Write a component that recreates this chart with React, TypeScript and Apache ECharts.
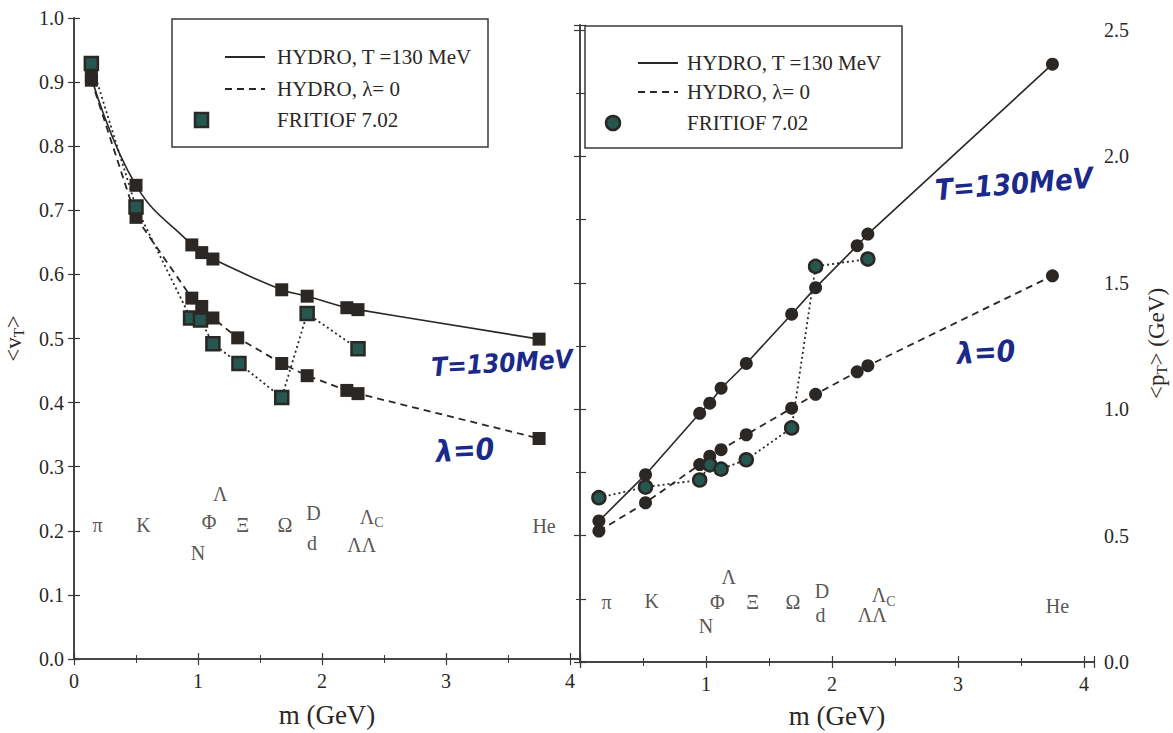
import React, { useEffect, useRef } from "react";
import * as echarts from "echarts";

// ---------- data (left panel: <v_T>) ----------
const vtHydroM = [0.14, 0.5, 0.95, 1.03, 1.12, 1.675, 1.88, 2.2, 2.29, 3.75];
const vtHydroT130 = [0.908, 0.739, 0.646, 0.634, 0.624, 0.576, 0.566, 0.548, 0.545, 0.499];
const vtLambda0M = [0.14, 0.5, 0.95, 1.03, 1.12, 1.32, 1.675, 1.88, 2.2, 2.29, 3.75];
const vtLambda0 = [0.903, 0.689, 0.563, 0.55, 0.532, 0.501, 0.461, 0.442, 0.419, 0.414, 0.344];
const vtFritiofM = [0.14, 0.5, 0.94, 1.02, 1.12, 1.33, 1.675, 1.88, 2.29];
const vtFritiof = [0.929, 0.705, 0.532, 0.529, 0.492, 0.461, 0.408, 0.539, 0.484];

// ---------- data (right panel: <p_T>) ----------
const ptM = [0.15, 0.52, 0.95, 1.03, 1.12, 1.32, 1.68, 1.87, 2.2, 2.285, 3.75];
const ptHydroT130 = [0.558, 0.741, 0.984, 1.024, 1.083, 1.181, 1.376, 1.481, 1.647, 1.693, 2.365];
const ptLambda0 = [0.518, 0.63, 0.781, 0.814, 0.84, 0.899, 1.004, 1.059, 1.148, 1.172, 1.528];
const ptFritiofM = [0.15, 0.52, 0.95, 1.03, 1.12, 1.32, 1.68, 1.87, 2.285];
const ptFritiof = [0.65, 0.692, 0.72, 0.78, 0.763, 0.8, 0.926, 1.565, 1.594];

// ---------- particle labels ----------
const particleNames = ["π", "K", "N", "Φ", "Λ", "Ξ", "Ω", "D", "d", "Λc", "ΛΛ", "He"];
const vtLabelM = [0.19, 0.56, 1.0, 1.09, 1.18, 1.36, 1.7, 1.93, 1.92, 2.4, 2.32, 3.79];
const vtLabelY = [0.209, 0.209, 0.165, 0.213, 0.257, 0.209, 0.209, 0.228, 0.181, 0.222, 0.178, 0.207];
const ptLabelM = [0.21, 0.57, 1.0, 1.09, 1.18, 1.37, 1.69, 1.92, 1.91, 2.41, 2.32, 3.79];
const ptLabelY = [0.236, 0.24, 0.144, 0.236, 0.335, 0.236, 0.236, 0.282, 0.184, 0.265, 0.184, 0.223];

const leftXTicks = [0, 1, 2, 3, 4];
const rightXTicks = [1, 2, 3, 4];
const legendTexts = ["HYDRO, T =130 MeV", "HYDRO, λ= 0", "FRITIOF 7.02"];

const SERIF = "Liberation Serif";
const INK = "#2b2724";
const TEAL = "#25574f";
const HAND = "#1b2a8a";

const pairs = (xs: number[], ys: number[]) => xs.map((x, i) => [x, ys[i]]);

function App() {
  const ref = useRef<HTMLDivElement>(null);
  useEffect(() => {
    if (!ref.current) return;
    const chart = echarts.init(ref.current, undefined, { renderer: "svg" });

    const axisLine = { show: true, lineStyle: { color: "#3a3a3a", width: 1.5 } };
    const tick = { show: true, inside: true, length: 6, lineStyle: { color: "#3a3a3a", width: 1.2 } };
    const minor = { show: true, splitNumber: 2, length: 4, lineStyle: { color: "#3a3a3a", width: 1 } };
    const xFmt = (ticks: number[]) => (v: number) =>
      ticks.includes(Math.round(v * 1000) / 1000) ? String(v) : "";

    const xAxisBase = (gridIndex: number, position: string, ticks: number[] | null) => ({
      type: "value",
      gridIndex,
      position,
      min: 0,
      max: 4.08,
      interval: 1,
      axisLine,
      axisTick: tick,
      minorTick: minor,
      splitLine: { show: false },
      axisLabel: ticks
        ? { show: true, formatter: xFmt(ticks), fontFamily: SERIF, fontSize: 20, color: INK, margin: 12 }
        : { show: false },
      name: ticks ? "m (GeV)" : "",
      nameLocation: "middle",
      nameGap: 42,
      nameTextStyle: { fontFamily: SERIF, fontSize: 27, color: INK },
    });

    const labelSeries = (xi: number, yi: number, ms: number[], ys: number[]) => ({
      type: "scatter",
      xAxisIndex: xi,
      yAxisIndex: yi,
      silent: true,
      symbolSize: 1,
      itemStyle: { color: "rgba(0,0,0,0)" },
      z: 1,
      data: ms.map((m, i) => ({ name: particleNames[i], value: [m, ys[i]] })),
      label: {
        show: true,
        position: "inside",
        fontFamily: SERIF,
        fontSize: 20,
        color: INK,
        formatter: (p: any) => (p.name === "Λc" ? "Λ{sub|C}" : p.name),
        rich: { sub: { fontFamily: SERIF, fontSize: 14, color: INK, padding: [12, 0, 0, 0] } },
      },
    });

    const lineSeries = (
      xi: number,
      yi: number,
      name: string,
      data: number[][],
      type: any,
      symbol: string,
      fill: string,
      smooth: number | boolean
    ) => ({
      type: "line",
      name,
      xAxisIndex: xi,
      yAxisIndex: yi,
      data,
      smooth,
      symbol,
      symbolSize: 13,
      showSymbol: true,
      lineStyle: { color: INK, width: type === "solid" ? 1.6 : 1.8, type },
      itemStyle: { color: fill, borderColor: INK, borderWidth: fill === INK ? 0 : 2.5 },
      z: fill === INK ? 3 : 4,
    });

    const legend = (x: number, y: number, w: number, h: number, lx: number, tx: number, rows: number[], marker: any) => [
      { type: "rect", shape: { x, y, width: w, height: h }, style: { fill: "#fff", stroke: "#3a3a3a", lineWidth: 1.5 }, z: 10 },
      { type: "line", shape: { x1: lx, y1: rows[0], x2: lx + 40, y2: rows[0] }, style: { stroke: INK, lineWidth: 2 }, z: 11 },
      { type: "line", shape: { x1: lx, y1: rows[1], x2: lx + 40, y2: rows[1] }, style: { stroke: INK, lineWidth: 2, lineDash: [7, 5] }, z: 11 },
      marker,
      ...legendTexts.map((t, i) => ({
        type: "text",
        x: tx,
        y: rows[i],
        z: 11,
        style: { text: t, fontFamily: SERIF, fontSize: 21, fill: INK, textVerticalAlign: "middle", verticalAlign: "middle" },
      })),
    ];

    const hand = (text: string, x: number, y: number, size: number, rot: number) => ({
      type: "text",
      x,
      y,
      rotation: rot,
      z: 12,
      style: {
        text,
        fontFamily: "DejaVu Sans Condensed",
        fontWeight: "bold",
        fontStyle: "italic",
        fontSize: size,
        fill: HAND,
        textAlign: "center",
        align: "center",
        textVerticalAlign: "middle",
        verticalAlign: "middle",
      },
    });

    chart.setOption({
      animation: false,
      backgroundColor: "#fff",
      grid: [
        { left: 74, top: 18, width: 506, height: 641, containLabel: false, outerBoundsMode: "none" },
        { left: 580, top: 25, width: 514, height: 637, containLabel: false, outerBoundsMode: "none" },
      ],
      xAxis: [
        xAxisBase(0, "bottom", leftXTicks),
        xAxisBase(0, "top", null),
        { ...xAxisBase(1, "bottom", rightXTicks), nameGap: 40 },
        xAxisBase(1, "top", null),
      ],
      yAxis: [
        {
          type: "value",
          gridIndex: 0,
          position: "left",
          min: 0,
          max: 1,
          interval: 0.1,
          axisLine,
          axisTick: tick,
          splitLine: { show: false },
          axisLabel: { fontFamily: SERIF, fontSize: 20, color: INK, margin: 10, formatter: (v: number) => v.toFixed(1) },
          name: "<v{sub|T}>",
          nameLocation: "middle",
          nameGap: 48,
          nameRotate: 90,
          nameTextStyle: {
            fontFamily: SERIF,
            fontSize: 23,
            color: INK,
            rich: { sub: { fontFamily: SERIF, fontSize: 15, color: INK, padding: [10, 0, 0, 0] } },
          },
        },
        {
          type: "value",
          gridIndex: 0,
          position: "right",
          min: 0,
          max: 1,
          interval: 0.1,
          axisLine,
          axisTick: tick,
          splitLine: { show: false },
          axisLabel: { show: false },
        },
        {
          type: "value",
          gridIndex: 1,
          position: "left",
          min: 0,
          max: 2.52,
          interval: 0.25,
          axisLine,
          axisTick: tick,
          splitLine: { show: false },
          axisLabel: { show: false },
        },
        {
          type: "value",
          gridIndex: 1,
          position: "right",
          min: 0,
          max: 2.52,
          interval: 0.5,
          axisLine,
          axisTick: tick,
          minorTick: minor,
          splitLine: { show: false },
          axisLabel: {
            fontFamily: SERIF,
            fontSize: 20,
            color: INK,
            margin: 10,
            formatter: (v: number) => (Math.abs(v * 2 - Math.round(v * 2)) < 1e-6 ? v.toFixed(1) : ""),
          },
          name: "<p{sub|T}> (GeV)",
          nameLocation: "middle",
          nameGap: 50,
          nameRotate: 90,
          nameTextStyle: {
            fontFamily: SERIF,
            fontSize: 23,
            color: INK,
            rich: { sub: { fontFamily: SERIF, fontSize: 15, color: INK, padding: [10, 0, 0, 0] } },
          },
        },
      ],
      series: [
        lineSeries(0, 0, "vt-hydro", pairs(vtHydroM, vtHydroT130), "solid", "rect", INK, 0.45),
        lineSeries(0, 0, "vt-lambda0", pairs(vtLambda0M, vtLambda0), [7, 5], "rect", INK, false),
        lineSeries(0, 0, "vt-fritiof", pairs(vtFritiofM, vtFritiof), [2, 3], "rect", TEAL, false),
        lineSeries(2, 3, "pt-hydro", pairs(ptM, ptHydroT130), "solid", "circle", INK, false),
        lineSeries(2, 3, "pt-lambda0", pairs(ptM, ptLambda0), [7, 5], "circle", INK, false),
        lineSeries(2, 3, "pt-fritiof", pairs(ptFritiofM, ptFritiof), [2, 3], "circle", TEAL, false),
        labelSeries(0, 0, vtLabelM, vtLabelY),
        labelSeries(2, 3, ptLabelM, ptLabelY),
      ],
      graphic: [
        ...legend(172, 19, 316, 128, 225, 277, [57, 89, 120], {
          type: "rect",
          shape: { x: 195, y: 113, width: 13, height: 14 },
          style: { fill: TEAL, stroke: INK, lineWidth: 2.5 },
          z: 11,
        }),
        ...legend(585, 26, 317, 122, 638, 687, [63, 92, 123], {
          type: "circle",
          shape: { cx: 613, cy: 123, r: 7 },
          style: { fill: TEAL, stroke: INK, lineWidth: 2.5 },
          z: 11,
        }),
        hand("T=130MeV", 502, 363, 26, 0.06),
        hand("λ=0", 465, 450, 30, 0.05),
        hand("T=130MeV", 1014, 184, 29, 0.08),
        hand("λ=0", 986, 352, 30, 0.05),
      ],
    });
    return () => chart.dispose();
  }, []);
  return (
    <div
      ref={ref}
      style={{ position: "absolute", left: 0, top: 0, width: 1173, height: 733, background: "#fff" }}
    />
  );
}

export default App;
